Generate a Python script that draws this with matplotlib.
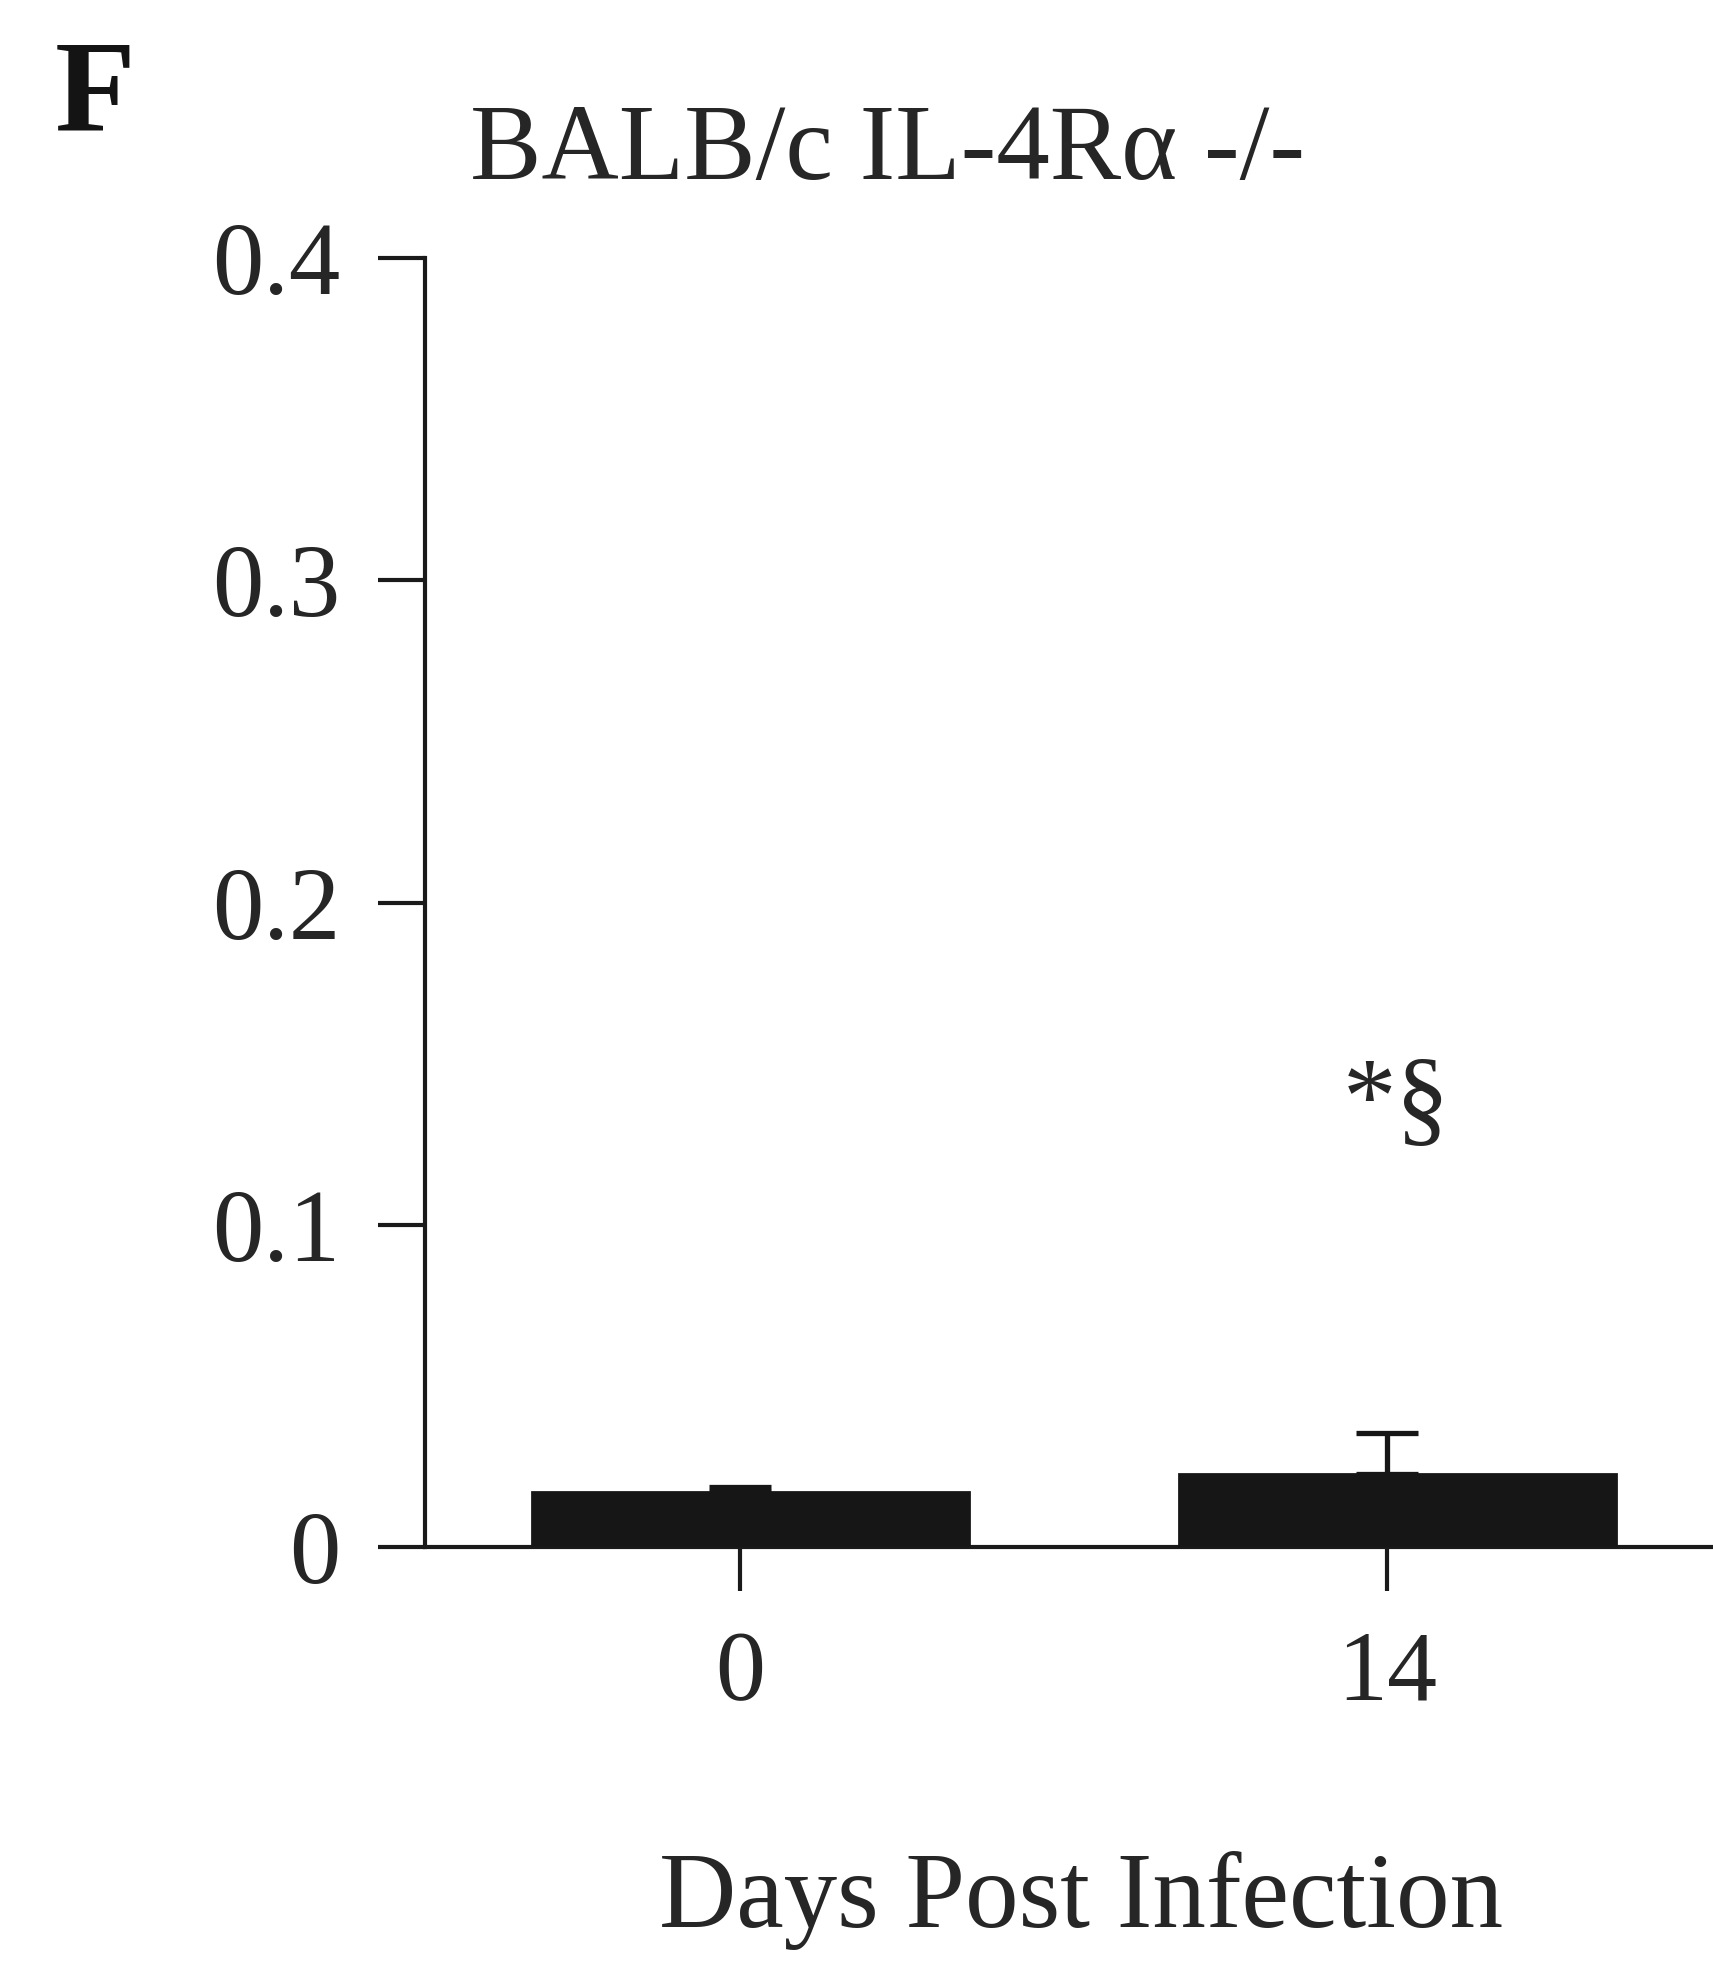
import matplotlib
matplotlib.use("Agg")
import matplotlib.pyplot as plt

plt.rcParams['font.family'] = ['Liberation Serif', 'DejaVu Serif']

# Data
days = ["0", "14"]
means = [0.0171, 0.0227]
errors_up = [0.0015, 0.0127]
yticks = [0, 0.1, 0.2, 0.3, 0.4]
ytick_labels = ["0", "0.1", "0.2", "0.3", "0.4"]
panel_label = "F"
title = "BALB/c IL-4R\u03b1 -/-"
xlabel = "Days Post Infection"
significance = "*\u00a7"

W, H = 1713, 1975
fig = plt.figure(figsize=(W / 100, H / 100), dpi=100)
fig.patch.set_facecolor("white")

left = 425 / W
bottom = 1 - 1547 / H
top = 1 - 258 / H
ax = fig.add_axes([left, bottom, 1 - left, top - bottom])

ink = "#161616"
line_col = "#1a1a1a"
text_col = "#262626"
lw = 3.0

x = list(range(len(days)))
bar_shift = 0.016  # bars sit slightly right of their tick marks
ax.bar([i + bar_shift for i in x], means, width=0.675, color=ink,
       edgecolor=ink, linewidth=2, zorder=2)
ax.errorbar(x, means, yerr=[[0] * len(means), errors_up], fmt="none",
            ecolor=ink, elinewidth=3.8, capsize=22, capthick=3.8,
            zorder=3)

ax.set_xlim(-0.487, 1.504)
ax.set_ylim(0, 0.4)

for s in ["top", "right"]:
    ax.spines[s].set_visible(False)
for s in ["left", "bottom"]:
    ax.spines[s].set_linewidth(lw)
    ax.spines[s].set_color(line_col)
ax.spines["bottom"].set_zorder(1)

ax.set_yticks(yticks)
ax.set_yticklabels(ytick_labels)
ax.set_xticks(x)
ax.set_xticklabels(days)
ax.tick_params(axis="y", direction="out", length=34, width=lw,
               labelsize=74, pad=27, colors=line_col, labelcolor=text_col)
ax.tick_params(axis="x", direction="out", length=32, width=lw,
               labelsize=72, pad=28, colors=line_col, labelcolor=text_col)

ax.text(1.014, 0.137, significance, ha="center", va="center",
        fontsize=77, color=text_col)

fig.text(888 / W, 1 - 179 / H, title, ha="center", va="baseline",
         fontsize=77, color=text_col)
fig.text(55 / W, 1 - 130 / H, panel_label, ha="left", va="baseline",
         fontsize=95, fontweight="bold", color="#141414")
fig.text(1081 / W, 1 - 1927 / H, xlabel, ha="center", va="baseline",
         fontsize=77, color=text_col)

fig.savefig("out.png", dpi=100, facecolor="white")
